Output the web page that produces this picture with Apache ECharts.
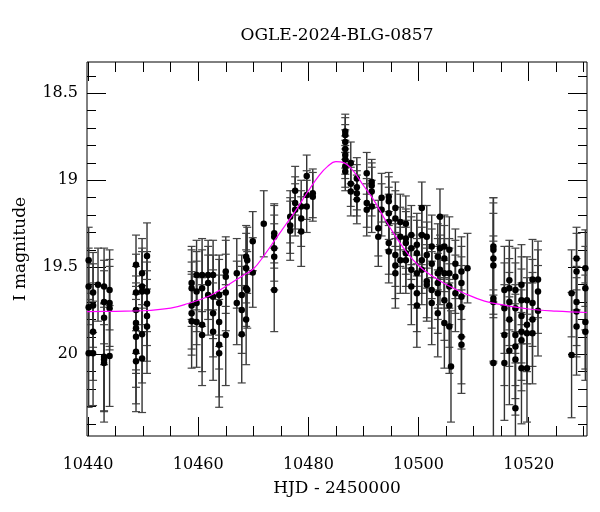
<!DOCTYPE html>
<html>
<head>
<meta charset="utf-8">
<script src="https://cdn.jsdelivr.net/npm/echarts@6/dist/echarts.min.js"></script>
<style>html,body{margin:0;padding:0;background:#fff}#chart{width:600px;height:512px}</style>
</head>
<body>
<div id="chart"></div>
<script>
// Observation nights (HJD - 2450000)
var nightHJD = [10440.1,10440.9,10441.8,10442.9,10443.9,10448.7,10449.8,10450.7,10458.8,10459.7,
  10460.7,10461.8,10462.7,10463.8,10465.0,10467.0,10467.9,10468.7,10468.9,10469.9,
  10471.9,10473.8,10476.7,10477.6,10478.7,10479.7,10480.8,10486.7,10487.7,10488.8,
  10490.6,10491.5,10492.7,10493.3,10494.6,10495.8,10496.7,10497.7,10498.7,10499.7,
  10500.6,10501.5,10502.4,10503.5,10503.9,10504.7,10505.6,10505.9,10506.7,10507.8,
  10508.9,10513.6,10515.6,10516.5,10517.6,10518.7,10519.7,10520.7,10521.7,10527.8,
  10528.7,10530.3];
// I magnitudes measured on each night
var nightMags = [
  [19.46,19.61,19.73,19.995],[19.645,19.72,19.87,19.995],[19.60],[19.61,19.70,19.79,20.015,20.03,20.05],[19.63,19.705,19.735,20.01],
  [19.485,19.645,19.745,19.82,19.85,19.90,19.985,20.04],[19.535,19.61,19.64,19.885,20.025],[19.435,19.64,19.71,19.78,19.84],
  [19.59,19.62,19.72,19.765,19.81],[19.545,19.64,19.705,19.815],
  [19.545,19.62,19.83,19.89],[19.545,19.59,19.66],[19.545,19.67,19.765,19.87],[19.66,19.705,19.815,19.945,19.995],[19.525,19.555,19.645,19.89],
  [19.535,19.705],[19.66,19.745,19.885],[19.44,19.505,19.62,19.80],[19.46,19.63],[19.35,19.53],
  [19.25],[19.305,19.325,19.39,19.44,19.63],[19.21,19.26,19.29],[19.06,19.13,19.17],[19.15,19.22,19.295],
  [18.975,19.085,19.15],[19.075,19.095],[18.72,18.74,18.78,18.82,18.855,18.88,18.92,18.95],[18.90,19.02,19.065],[18.99,19.04,19.075,19.11],
  [18.96,19.13,19.17],[19.01,19.03,19.065,19.15],[19.275,19.325],[19.10,19.17],[19.095,19.12,19.19,19.24,19.36,19.41],
  [19.16,19.22,19.43,19.49,19.535],[19.24,19.325,19.46],[19.25,19.335,19.36,19.42,19.46],[19.315,19.39,19.515,19.61],[19.37,19.42,19.535,19.65,19.72],
  [19.16,19.315,19.46,19.515],[19.325,19.43,19.58,19.60],[19.38,19.48,19.63,19.705],[19.44,19.535,19.59,19.65,19.765],[19.21,19.39,19.515],
  [19.38,19.45,19.535,19.69,19.82],[19.40,19.535,19.61,19.72,19.84],[20.07],[19.48,19.555,19.65],[19.525,19.59,19.67,19.73,19.90,19.945],
  [19.505],[19.38,19.40,19.45,19.49,19.68,19.70,20.05],[19.63,19.735,19.89,20.05],[19.575,19.62,19.70,19.80,19.98],[19.63,19.735,19.89,19.955,20.03,20.31],
  [19.60,19.69,19.78,19.87,19.92,20.08],[19.69,19.83,19.88,20.08],[19.57,19.705,19.80,19.88],[19.57,19.64,19.75],[19.65,20.005],
  [19.45,19.525,19.70,19.755,19.84],[19.505,19.62,19.815,19.87]
];
// 1-sigma errors of those magnitudes
var nightErrs = [
  [0.19,0.22,0.25,0.31],[0.23,0.24,0.28,0.30],[0.21],[0.22,0.24,0.27,0.31,0.30,0.34],[0.23,0.25,0.24,0.29],
  [0.17,0.22,0.25,0.27,0.26,0.29,0.30,0.29],[0.20,0.22,0.23,0.28,0.31],[0.19,0.23,0.24,0.26,0.27],
  [0.21,0.22,0.25,0.24,0.27],[0.20,0.23,0.24,0.26],
  [0.21,0.22,0.27,0.29],[0.20,0.21,0.23],[0.20,0.24,0.25,0.28],[0.23,0.25,0.27,0.30,0.31],[0.20,0.21,0.22,0.29],
  [0.20,0.24],[0.23,0.25,0.28],[0.18,0.20,0.22,0.26],[0.19,0.22],[0.17,0.20],
  [0.19],[0.17,0.18,0.19,0.19,0.24],[0.15,0.16,0.17],[0.14,0.15,0.15],[0.15,0.16,0.20],
  [0.12,0.14,0.15],[0.14,0.14],[0.10,0.10,0.10,0.11,0.11,0.11,0.12,0.11],[0.12,0.13,0.14],[0.12,0.13,0.13,0.14],
  [0.12,0.14,0.15],[0.13,0.13,0.14,0.15],[0.16,0.17],[0.14,0.15],[0.14,0.14,0.15,0.16,0.18,0.18],
  [0.15,0.16,0.18,0.19,0.20],[0.16,0.17,0.19],[0.16,0.17,0.18,0.19,0.19],[0.17,0.18,0.20,0.22],[0.18,0.19,0.20,0.22,0.24],
  [0.15,0.17,0.19,0.20],[0.18,0.19,0.21,0.21],[0.18,0.20,0.22,0.24],[0.19,0.20,0.21,0.23,0.25],[0.16,0.18,0.20],
  [0.18,0.19,0.20,0.23,0.26],[0.19,0.20,0.22,0.24,0.27],[0.32],[0.20,0.21,0.22],[0.20,0.21,0.23,0.24,0.27,0.28],
  [0.20],[0.28,0.30,0.32,0.30,0.36,0.35,0.42],[0.25,0.26,0.29,0.33],[0.23,0.24,0.25,0.27,0.31],[0.24,0.26,0.29,0.30,0.32,0.26],
  [0.23,0.25,0.27,0.28,0.29,0.32],[0.25,0.27,0.29,0.31],[0.23,0.25,0.27,0.29],[0.22,0.24,0.26],[0.25,0.36],
  [0.18,0.22,0.25,0.26,0.28],[0.22,0.24,0.27,0.28]
];
// Model light curve
var modelHJD = [10439.8,10445,10450,10455,10458,10462,10465,10468,10470,10472,10474,10476,10478,10480,10482,10483.5,10485,10486.5,10488,10490,10492,10494,10496,10498,10500,10502,10504,10506,10508,10512,10516,10520,10525,10530.6];
var modelMag = [19.755,19.753,19.75,19.735,19.71,19.665,19.61,19.55,19.51,19.43,19.34,19.25,19.16,19.06,18.97,18.92,18.893,18.9,18.94,19.03,19.12,19.23,19.33,19.42,19.49,19.54,19.58,19.615,19.645,19.695,19.72,19.74,19.752,19.76];
// Axes
var xRange = [10439.8, 10530.6];
var yRange = [18.32, 20.47];
var xMajorTicks = [10440,10460,10480,10500,10520];
var xMinorTicks = [10445,10450,10455,10465,10470,10475,10485,10490,10495,10505,10510,10515,10525,10530];
var yMajorTicks = [18.5,19,19.5,20];
var yMinorTicks = [18.4,18.6,18.7,18.8,18.9,19.1,19.2,19.3,19.4,19.6,19.7,19.8,19.9,20.1,20.2,20.3,20.4];
var titleText = 'OGLE-2024-BLG-0857';
var xTitle = 'HJD - 2450000';
var yTitle = 'I magnitude';

var FONT = 'DejaVu Serif';
var points = [], bars = [];
for (var i = 0; i < nightHJD.length; i++) {
  for (var j = 0; j < nightMags[i].length; j++) {
    points.push([nightHJD[i], nightMags[i][j]]);
    bars.push([nightHJD[i], nightMags[i][j] - nightErrs[i][j], nightMags[i][j] + nightErrs[i][j]]);
  }
}
var model = modelHJD.map(function (t, k) { return [t, modelMag[k]]; });

function xAx(pos, ticks, len, labels) {
  return {
    type: 'value', position: pos, min: xRange[0], max: xRange[1],
    axisLine: { show: false },
    splitLine: { show: false },
    axisTick: { show: true, inside: true, length: len, customValues: ticks, lineStyle: { color: '#000', width: 1 } },
    axisLabel: labels ? { show: true, customValues: ticks, margin: 21, color: '#000', fontFamily: FONT, fontSize: 16,
      formatter: function (v) { return String(v); } } : { show: false },
    name: labels ? xTitle : '', nameLocation: 'middle', nameGap: 44,
    nameTextStyle: { color: '#000', fontFamily: FONT, fontSize: 17 }
  };
}
function yAx(pos, ticks, len, labels) {
  return {
    type: 'value', position: pos, inverse: true, min: yRange[0], max: yRange[1],
    axisLine: { show: false },
    splitLine: { show: false },
    axisTick: { show: true, inside: true, length: len, customValues: ticks, lineStyle: { color: '#000', width: 1 } },
    axisLabel: labels ? { show: true, customValues: ticks, margin: 9, color: '#000', fontFamily: FONT, fontSize: 16,
      formatter: function (v) { return String(v); } } : { show: false },
    name: labels ? yTitle : '', nameLocation: 'middle', nameGap: 58,
    nameTextStyle: { color: '#000', fontFamily: FONT, fontSize: 17 }
  };
}

var chart = echarts.init(document.getElementById('chart'), null, { renderer: 'canvas' });
chart.setOption({
  animation: false,
  backgroundColor: '#fff',
  grid: { left: 87, right: 13, top: 62, bottom: 76, show: true, borderColor: '#000', borderWidth: 1, backgroundColor: 'transparent' },
  graphic: [{ type: 'text', x: 337, y: 36, style: { text: titleText, textAlign: 'center', textVerticalAlign: 'middle', font: '17px "DejaVu Serif"', fill: '#000' } }],
  xAxis: [
    xAx('bottom', xMajorTicks, 19, true), xAx('bottom', xMinorTicks, 10, false),
    xAx('top', xMajorTicks, 19, false), xAx('top', xMinorTicks, 10, false)
  ],
  yAxis: [
    yAx('left', yMajorTicks, 19, true), yAx('left', yMinorTicks, 9, false),
    yAx('right', yMajorTicks, 19, false), yAx('right', yMinorTicks, 9, false)
  ],
  series: [
    {
      type: 'custom', xAxisIndex: 0, yAxisIndex: 0, data: bars, z: 2,
      renderItem: function (params, api) {
        var cs = params.coordSys;
        var p1 = api.coord([api.value(0), api.value(1)]);
        var p2 = api.coord([api.value(0), api.value(2)]);
        var x = p1[0];
        if (x < cs.x - 5 || x > cs.x + cs.width + 5) return null;
        var top = Math.max(p1[1], cs.y), bot = Math.min(p2[1], cs.y + cs.height);
        var children = [{ type: 'line', shape: { x1: x, y1: top, x2: x, y2: bot }, style: { stroke: '#333', lineWidth: 1.4 } }];
        if (p1[1] >= cs.y) children.push({ type: 'line', shape: { x1: x - 4, y1: p1[1], x2: x + 4, y2: p1[1] }, style: { stroke: '#444', lineWidth: 1.2 } });
        if (p2[1] <= cs.y + cs.height) children.push({ type: 'line', shape: { x1: x - 4, y1: p2[1], x2: x + 4, y2: p2[1] }, style: { stroke: '#444', lineWidth: 1.2 } });
        return { type: 'group', children: children, clipPath: { type: 'rect', shape: { x: cs.x, y: cs.y, width: cs.width, height: cs.height } } };
      }
    },
    {
      type: 'scatter', xAxisIndex: 0, yAxisIndex: 0, data: points, symbol: 'circle', symbolSize: 6.5, z: 3,
      itemStyle: { color: '#000', opacity: 1 }
    },
    {
      type: 'line', xAxisIndex: 0, yAxisIndex: 0, data: model, smooth: 0.4, showSymbol: false, z: 4,
      lineStyle: { color: '#ff00ff', width: 1.2 }
    }
  ]
});
</script>
</body>
</html>
